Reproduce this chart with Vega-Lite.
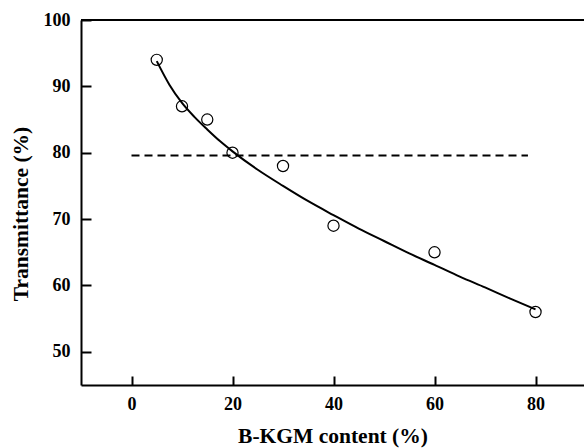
{
  "$schema": "https://vega.github.io/schema/vega-lite/v6.json",
  "width": 503,
  "height": 365,
  "autosize": {"type": "none"},
  "padding": {"left": 81, "top": 20, "right": 0, "bottom": 63},
  "background": "white",
  "config": {
    "view": {"stroke": null},
    "font": "Liberation Serif",
    "axis": {
      "grid": false,
      "domainColor": "black",
      "domainWidth": 2,
      "tickColor": "black",
      "tickWidth": 2,
      "labelFont": "Liberation Serif",
      "labelFontWeight": "bold",
      "labelFontSize": 18,
      "labelColor": "black",
      "titleFont": "Liberation Serif",
      "titleFontWeight": "bold",
      "titleFontSize": 21.5,
      "titleColor": "black"
    }
  },
  "datasets": {
    "obs": [
      {"content": 5, "transmittance": 94},
      {"content": 10, "transmittance": 87},
      {"content": 15, "transmittance": 85},
      {"content": 20, "transmittance": 80},
      {"content": 30, "transmittance": 78},
      {"content": 40, "transmittance": 69},
      {"content": 60, "transmittance": 65},
      {"content": 80, "transmittance": 56}
    ],
    "fit": [
      {"content": 5, "transmittance": 93.8},
      {"content": 7.5, "transmittance": 90.25},
      {"content": 10, "transmittance": 87.5},
      {"content": 12.5, "transmittance": 85.36},
      {"content": 15, "transmittance": 83.5},
      {"content": 17.5, "transmittance": 81.75},
      {"content": 20, "transmittance": 80.2},
      {"content": 25, "transmittance": 77.43},
      {"content": 30, "transmittance": 75.0},
      {"content": 35, "transmittance": 72.69},
      {"content": 40, "transmittance": 70.6},
      {"content": 45, "transmittance": 68.57},
      {"content": 50, "transmittance": 66.7},
      {"content": 55, "transmittance": 64.83},
      {"content": 60, "transmittance": 63.1},
      {"content": 65, "transmittance": 61.33},
      {"content": 70, "transmittance": 59.7},
      {"content": 75, "transmittance": 58.02},
      {"content": 80, "transmittance": 56.4}
    ],
    "threshold": [
      {"content": 0, "transmittance": 79.6},
      {"content": 78.5, "transmittance": 79.6}
    ]
  },
  "layer": [
    {
      "data": {"name": "threshold"},
      "mark": {"type": "line", "color": "black", "strokeWidth": 2, "strokeDash": [8, 5]},
      "encoding": {
        "x": {
          "field": "content", "type": "quantitative",
          "scale": {"domain": [-10, 89.6], "nice": false, "zero": false},
          "axis": {
            "orient": "bottom",
            "values": [0, 20, 40, 60, 80],
            "tickSize": -9,
            "labelPadding": 19,
            "title": "B-KGM content (%)",
            "titleY": 57,
            "titleBaseline": "alphabetic"
          }
        },
        "y": {
          "field": "transmittance", "type": "quantitative",
          "scale": {"domain": [45, 100], "nice": false, "zero": false},
          "axis": {
            "values": [50, 60, 70, 80, 90, 100],
            "tickSize": -10,
            "labelPadding": 21,
            "title": "Transmittance (%)",
            "titleX": -54,
            "titleY": 193.5,
            "titleBaseline": "alphabetic"
          }
        }
      }
    },
    {
      "data": {"name": "fit"},
      "mark": {"type": "line", "color": "black", "strokeWidth": 2, "interpolate": "monotone"},
      "encoding": {
        "x": {"field": "content", "type": "quantitative"},
        "y": {"field": "transmittance", "type": "quantitative"}
      }
    },
    {
      "data": {"name": "obs"},
      "mark": {"type": "point", "shape": "circle", "filled": false, "color": "black", "strokeWidth": 1.2, "size": 125, "opacity": 1},
      "encoding": {
        "x": {"field": "content", "type": "quantitative"},
        "y": {"field": "transmittance", "type": "quantitative"}
      }
    },
    {
      "data": {"values": [{"v": 100}]},
      "mark": {"type": "rule", "color": "black", "strokeWidth": 2},
      "encoding": {
        "y": {"field": "v", "type": "quantitative"}
      }
    }
  ]
}
